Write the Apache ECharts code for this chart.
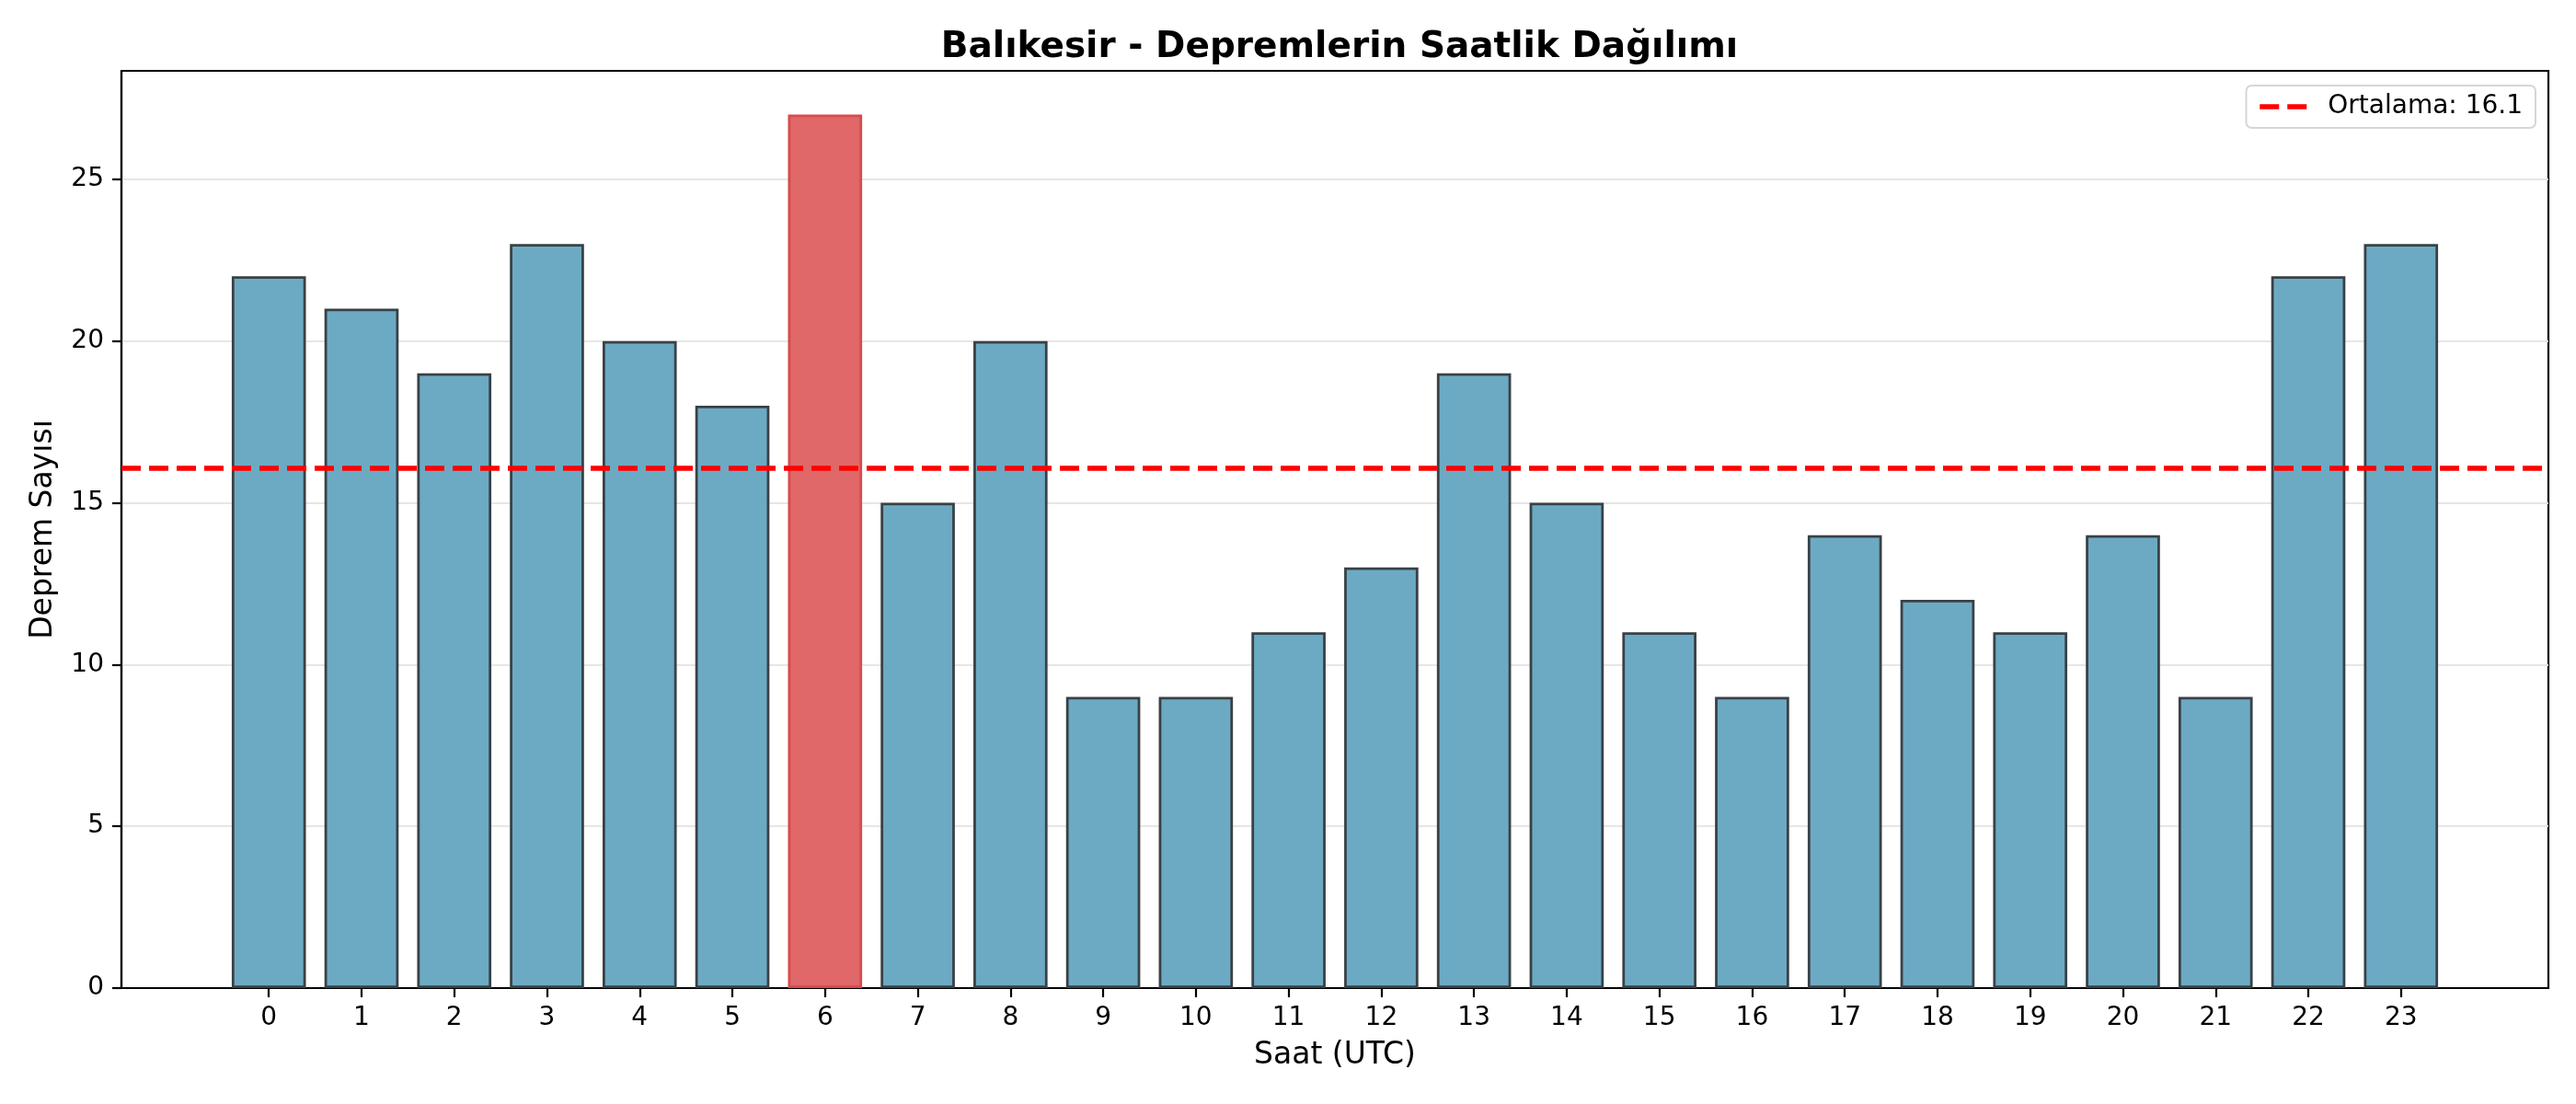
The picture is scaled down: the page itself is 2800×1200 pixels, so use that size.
<!DOCTYPE html>
<html>
<head>
    <meta charset="UTF-8">
    <title>Balıkesir - Depremlerin Saatlik Dağılımı</title>
    <script src="https://cdn.jsdelivr.net/npm/echarts@6/dist/echarts.min.js"></script>
    <style>
        body, html {
            margin: 0;
            padding: 0;
            background: #fff;
        }
        #chart {
            width: 2800px;
            height: 1200px;
        }
    </style>
</head>
<body>
<div id="chart"></div>
<script>
    // saatler (UTC) ve deprem sayilari
    var hours = [0, 1, 2, 3, 4, 5, 6, 7, 8, 9, 10, 11, 12, 13, 14, 15, 16, 17, 18, 19, 20, 21, 22, 23];
    var counts = [22, 21, 19, 23, 20, 18, 27, 15, 20, 9, 9, 11, 13, 19, 15, 11, 9, 14, 12, 11, 14, 9, 22, 23];
    var yTicks = [0, 5, 10, 15, 20, 25];

    var font = 'DejaVu Sans';
    var grid = {left: 132, right: 30, top: 77, bottom: 126};

    var total = 0, maxIdx = 0;
    for (var i = 0; i < counts.length; i++) {
        total += counts[i];
        if (counts[i] > counts[maxIdx]) maxIdx = i;
    }
    var mean = total / counts.length;
    var meanName = 'Ortalama: ' + mean.toFixed(1);

    // matplotlib gibi kenar bosluklari (bar genisligi 0.8, margin %5)
    var span = (hours[hours.length - 1] + 0.4) - (hours[0] - 0.4);
    var xMin = hours[0] - 0.4 - span * 0.05;
    var xMax = hours[hours.length - 1] + 0.4 + span * 0.05;
    var yMax = counts[maxIdx] * 1.05;

    var barData = hours.map(function (h, i) {
        var item = {value: [h, counts[i]]};
        if (i === maxIdx) {
            item.itemStyle = {color: '#e06868', borderColor: '#d94a4c'};
        }
        return item;
    });

    var meanDash = [21, 9];

    var echart = echarts.init(document.getElementById('chart'));
    var option = {
        animation: false,
        backgroundColor: '#fff',
        textStyle: {fontFamily: font},
        title: {
            text: 'Balıkesir - Depremlerin Saatlik Dağılımı',
            left: 1451,
            top: 27,
            textAlign: 'center',
            textStyle: {fontFamily: font, fontSize: 39, fontWeight: 'bold', color: '#000'}
        },
        legend: {
            data: [meanName],
            right: 44,
            top: 93,
            itemWidth: 51,
            itemHeight: 14,
            padding: [9, 14, 9, 12],
            backgroundColor: '#fff',
            borderColor: '#d6d6d6',
            borderWidth: 2,
            borderRadius: 6,
            itemStyle: {opacity: 0},
            lineStyle: {color: '#ff0000', width: 5.5, type: meanDash},
            textStyle: {fontFamily: font, fontSize: 28, color: '#000', padding: [0, 0, 0, 18]}
        },
        grid: {
            left: grid.left, right: grid.right, top: grid.top, bottom: grid.bottom,
            show: true, borderColor: '#000', borderWidth: 2.2, backgroundColor: 'transparent'
        },
        xAxis: {
            type: 'value',
            min: xMin,
            max: xMax,
            name: 'Saat (UTC)',
            nameLocation: 'middle',
            nameGap: 57,
            nameTextStyle: {fontFamily: font, fontSize: 33, color: '#000'},
            axisLine: {show: true, onZero: false, lineStyle: {color: '#000', width: 2.2}},
            axisTick: {show: true, length: 10, customValues: hours, lineStyle: {color: '#000', width: 2.2}},
            axisLabel: {customValues: hours, margin: 19, fontFamily: font, fontSize: 28, color: '#000'},
            splitLine: {show: false}
        },
        yAxis: {
            type: 'value',
            min: 0,
            max: yMax,
            interval: 5,
            name: 'Deprem Sayısı',
            nameLocation: 'middle',
            nameGap: 68,
            nameTextStyle: {fontFamily: font, fontSize: 33, color: '#000'},
            axisLine: {show: true, onZero: false, lineStyle: {color: '#000', width: 2.2}},
            axisTick: {show: true, length: 10, customValues: yTicks, lineStyle: {color: '#000', width: 2.2}},
            axisLabel: {customValues: yTicks, margin: 19, fontFamily: font, fontSize: 28, color: '#000'},
            splitLine: {show: true, lineStyle: {color: '#e6e6e6', width: 2}}
        },
        series: [{
            type: 'bar',
            data: barData,
            barWidth: '80%',
            itemStyle: {color: '#6caac4', borderColor: '#394146', borderWidth: 2.8},
            z: 2
        }, {
            type: 'line',
            name: meanName,
            data: [],
            symbol: 'none',
            lineStyle: {color: '#ff0000', width: 5.5, type: meanDash},
            itemStyle: {color: '#ff0000'},
            markLine: {
                silent: true,
                symbol: 'none',
                label: {show: false},
                lineStyle: {color: '#ff0000', width: 5.5, type: meanDash},
                data: [{yAxis: mean}]
            },
            z: 5
        }]
    };
    echart.setOption(option);
</script>
</body>
</html>
